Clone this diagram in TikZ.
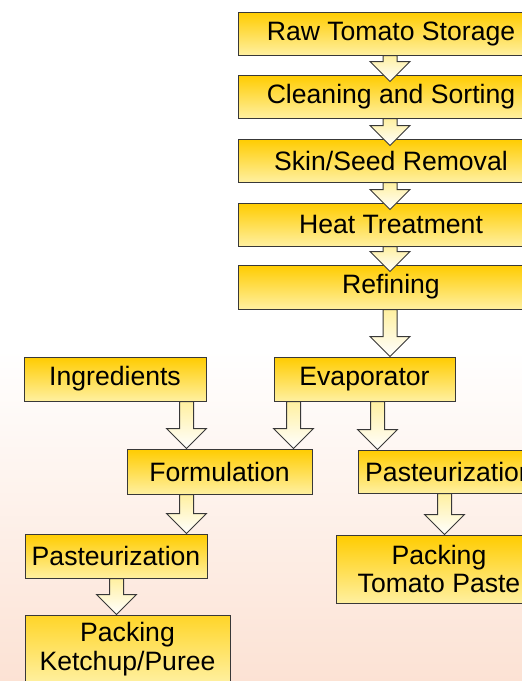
\documentclass[tikz,border=0pt]{standalone}
\usepackage{fontspec}
\setmainfont{Liberation Sans}
\usetikzlibrary{calc}
\definecolor{gold}{HTML}{FFCC00}
\definecolor{pale}{HTML}{FFF0A0}
\definecolor{arrowtop}{HTML}{FFF0A0}
\definecolor{peach}{HTML}{FCE2D4}
\definecolor{edge}{HTML}{383838}
\tikzset{
  procbox/.style={rectangle, draw=edge, line width=1pt, top color=gold, bottom color=pale,
    minimum height=44pt, inner sep=0pt, align=center,
    font=\fontsize{26.6}{28.5}\selectfont},
  barrowstyle/.style={draw=edge, line width=1pt, top color=arrowtop, bottom color=white, line join=miter}
}
\newcommand{\barrow}[2]{%
  \path[barrowstyle] let \p1=#1, \p2=#2 in
    (\x1-7pt,\y1) -- (\x1+7pt,\y1) -- (\x1+7pt,\y2+20pt) -- (\x1+20pt,\y2+20pt)
    -- (\x1,\y2) -- (\x1-20pt,\y2+20pt) -- (\x1-7pt,\y2+20pt) -- cycle;}
\begin{document}
\begin{tikzpicture}[x=1pt,y=-1pt]
\useasboundingbox (0,0) rectangle (522,681);
\clip (0,0) rectangle (522,681);
\fill[white] (0,0) rectangle (522,681);
\shade[top color=white, bottom color=peach] (0,350) rectangle (522,681);

% main column
\node[procbox, minimum width=306pt, minimum height=43pt] (raw)   at (391,33.5)  {Raw Tomato Storage};
\node[procbox, minimum width=306pt, minimum height=43pt] (clean) at (391,96.5)  {Cleaning and Sorting};
\node[procbox, minimum width=306pt, minimum height=43pt] (skin)  at (391,160.5) {Skin/Seed Removal};
\node[procbox, minimum width=306pt, minimum height=43pt] (heat)  at (391,224.5) {Heat Treatment};
\node[procbox, minimum width=306pt] (refine) at (391,287) {Refining};

\node[procbox, minimum width=181pt] (evap) at (364.5,379) {Evaporator};
\node[procbox, minimum width=182pt] (ingr) at (115,379) {Ingredients};
\node[procbox, minimum width=185pt, minimum height=45pt] (form) at (219.5,471.5) {Formulation};
\node[procbox, minimum width=183pt, minimum height=43pt] (pastR) at (449.5,471.5) {Pasteurization};
\node[procbox, minimum width=182pt] (pastL) at (116,556) {Pasteurization};
\node[procbox, minimum width=205pt, minimum height=68pt, top color=gold!75!pale] (packK) at (127.5,649) {Packing\\Ketchup/Puree};
\node[procbox, minimum width=206pt, minimum height=68pt] (packP) at (439,569) {Packing\\Tomato Paste};

% block arrows
\barrow{($(raw.south)+(-1,0)$)}{($(clean.north)+(0,7)$)}
\barrow{($(clean.south)+(-1,0)$)}{($(skin.north)+(0,7)$)}
\barrow{($(skin.south)+(-1,0)$)}{($(heat.north)+(0,7)$)}
\barrow{($(heat.south)+(-1,0)$)}{($(refine.north)+(0,7)$)}
\barrow{($(refine.south)+(-1,0)$)}{(evap.north)}
\barrow{($(evap.south west)+(20,0)$)}{(form.north)}
\barrow{($(evap.south west)+(104,0)$)}{(pastR.north)}
\barrow{($(ingr.south west)+(163,0)$)}{(form.north)}
\barrow{($(form.south west)+(60,0)$)}{(pastL.north)}
\barrow{($(pastL.south west)+(92,0)$)}{(packK.north)}
\barrow{($(pastR.south west)+(87,0)$)}{(packP.north)}
\end{tikzpicture}
\end{document}
